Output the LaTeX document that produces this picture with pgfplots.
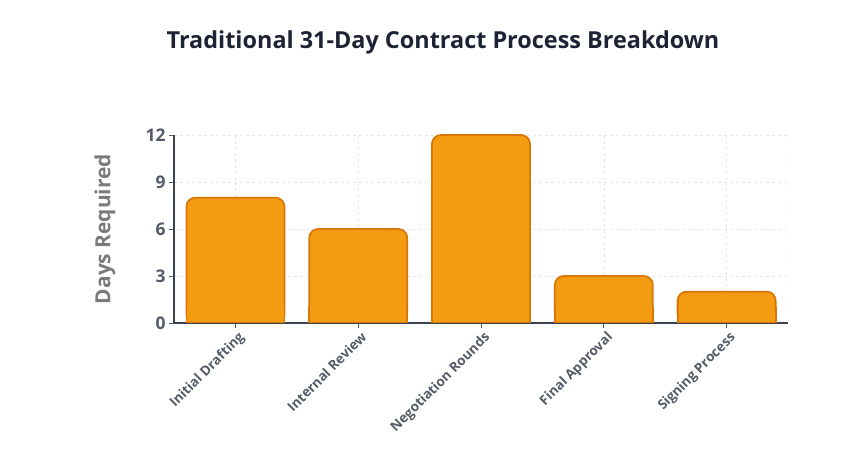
\documentclass[border=0pt]{standalone}
\usepackage{fontspec}
\setmainfont{Open Sans}
\usepackage{pgfplots}
\pgfplotsset{compat=1.18}
\definecolor{barfill}{HTML}{F39C12}
\definecolor{baredge}{HTML}{D97706}
\definecolor{axiscol}{HTML}{3B4252}
\definecolor{tickcol}{HTML}{555B66}
\definecolor{labcol}{HTML}{7A7A7A}
\definecolor{titlecol}{HTML}{1E2235}
\definecolor{gridcol}{HTML}{E6E6E6}
\begin{document}
\begin{tikzpicture}[x=1bp,y=1bp]
\path (0,0) rectangle (868,469);
\node[font=\bfseries\fontsize{23.5}{28}\selectfont, text=titlecol] at (443,427) {Traditional 31-Day Contract Process Breakdown};
\begin{axis}[
  at={(174bp,146bp)}, anchor=south west,
  width=614bp, height=188bp, scale only axis,
  xmin=-0.5, xmax=4.5, ymin=0, ymax=12,
  xtick={0,1,2,3,4}, ytick={0,3,6,9,12},
  xticklabels={Initial Drafting, Internal Review, Negotiation Rounds, Final Approval, Signing Process},
  axis x line*=bottom, axis y line*=left,
  axis line style={draw=axiscol, line width=1.6bp, -},
  tick align=outside, major tick length=5bp,
  tick style={draw=tickcol, line width=0.8bp},
  grid=major, grid style={dashed, draw=gridcol, line width=0.6bp},
  /pgf/number format/assume math mode=true,
  yticklabel style={font=\bfseries\fontsize{17.5}{20}\selectfont, text=tickcol},
  xticklabel style={rotate=45, anchor=north east, xshift=3bp, font=\bfseries\fontsize{13.5}{16}\selectfont, text=tickcol},
  ylabel={Days Required},
  every axis y label/.style={at={(axis description cs:0,0.5)}, xshift=-69bp, rotate=90, anchor=center, font=\bfseries\fontsize{21}{24}\selectfont, text=labcol},
]
\draw[dashed, draw=gridcol, line width=0.6bp] (axis cs:4.5,0) -- (axis cs:4.5,12);
\addplot[ybar, bar shift=0pt, bar width=98bp, fill=barfill, draw=baredge, line width=1.8bp, rounded corners=9bp]
  coordinates {(0,8) (1,6) (2,12) (3,3) (4,2)};
\begin{scope}
\clip (axis cs:-0.5,0) rectangle (axis cs:4.5,1);
\addplot[ybar, bar shift=0pt, bar width=98bp, fill=barfill, draw=baredge, line width=1.8bp]
  coordinates {(0,8) (1,6) (2,12) (3,3) (4,2)};
\end{scope}
\end{axis}
\end{tikzpicture}
\end{document}
